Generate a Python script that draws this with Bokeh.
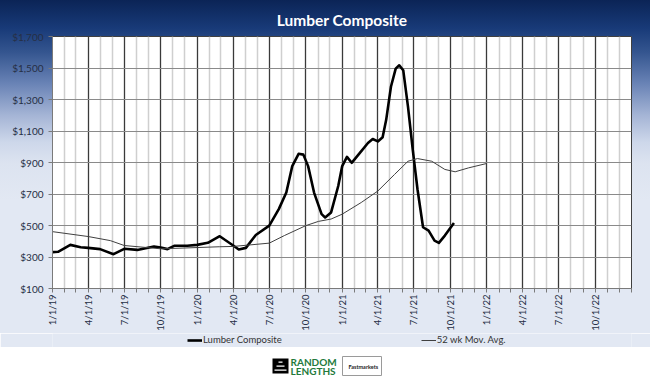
import pandas as pd
from bokeh.plotting import figure
from bokeh.layouts import column
from bokeh.models import (FixedTicker, NumeralTickFormatter, CustomJSTickFormatter,
                          Legend, LegendItem, Range1d)
from bokeh.core.properties import value
from bokeh.embed import file_html
from bokeh.resources import INLINE

# ---------------- data ----------------
lumber_dates = ["2019-01-01", "2019-01-15", "2019-02-15", "2019-03-13", "2019-04-01",
                "2019-05-01", "2019-06-04", "2019-07-01", "2019-08-03", "2019-09-14",
                "2019-10-01", "2019-10-18", "2019-11-04", "2019-12-07", "2020-01-01",
                "2020-01-28", "2020-02-27", "2020-04-01", "2020-04-15", "2020-05-03",
                "2020-05-28", "2020-07-01", "2020-07-25", "2020-08-13", "2020-08-28",
                "2020-09-13", "2020-09-25", "2020-10-07", "2020-10-22", "2020-11-10",
                "2020-11-19", "2020-12-04", "2020-12-22", "2021-01-01", "2021-01-13",
                "2021-01-25", "2021-02-11", "2021-03-07", "2021-03-19", "2021-04-01",
                "2021-04-13", "2021-04-22", "2021-05-04", "2021-05-16", "2021-05-25",
                "2021-06-04", "2021-06-16", "2021-06-28", "2021-07-10", "2021-07-24",
                "2021-08-07", "2021-08-22", "2021-09-02", "2021-09-17", "2021-10-10"]
lumber_values = [331, 333, 377, 362, 358,
                 350, 318, 352, 345, 367,
                 360, 350, 371, 371, 377,
                 390, 432, 373, 348, 358,
                 440, 499, 604, 709, 877,
                 955, 950, 877, 709, 572,
                 551, 583, 751, 877, 936,
                 898, 950, 1024, 1049, 1034,
                 1060, 1171, 1381, 1496, 1517,
                 1486, 1255, 982, 730, 489,
                 467, 404, 390, 436, 516]

ma_dates = ["2019-01-01", "2019-04-01", "2019-05-27", "2019-07-01", "2019-10-01",
            "2020-01-01", "2020-02-26", "2020-04-01", "2020-07-01", "2020-08-08",
            "2020-10-01", "2020-11-02", "2020-12-04", "2021-01-01", "2021-02-18",
            "2021-04-01", "2021-05-13", "2021-06-16", "2021-07-10", "2021-08-15",
            "2021-09-17", "2021-10-13", "2021-11-16", "2022-01-01"]
ma_values = [461, 430, 404, 373, 352,
             360, 365, 367, 388, 436,
             499, 526, 541, 572, 646,
             719, 824, 908, 925, 908,
             856, 841, 866, 894]

y_ticks = [100, 300, 500, 700, 900, 1100, 1300, 1500, 1700]
x_start, x_end = "2019-01-01", "2023-01-01"
series_names = ["Lumber Composite", "52 wk Mov. Avg."]
title_text = "Lumber Composite"
logo_words = ["RANDOM", "LENGTHS", "Fastmarkets"]


def ms(ts):
    return pd.Timestamp(ts).value / 1e6


quarters = [ms(t) for t in pd.date_range("2019-01-01", "2022-10-01", freq="QS")]
months = [ms(t) for t in pd.date_range(x_start, x_end, freq="MS")]
months_minor = [m for m in months if m not in quarters]

FONT = "Lato"
PALE = "#e2e8f3"
LUMBER_STYLE = dict(line_color="black", line_width=2.6, line_join="round")
MA_STYLE = dict(line_color="#404040", line_width=1)
BL, BR = 52, 19   # left / right borders shared by every strip

p = figure(width=650, height=333, x_axis_type="datetime",
           x_range=Range1d(ms(x_start), ms(x_end)), y_range=Range1d(100, 1700),
           output_backend="svg", toolbar_location=None,
           background_fill_color="white", border_fill_color=None,
           min_border_left=BL, min_border_right=BR, min_border_top=36, min_border_bottom=43,
           outline_line_color="#404040", outline_line_width=1)
p.styles = {"background": "linear-gradient(to bottom, #0b2456 0px, #183a78 28px, #34558f 52px, "
                          "#6882b5 83px, #a4b4d5 115px, #cdd7ea 142px, #dce3f0 163px, "
                          "#e2e8f3 200px, #e2e8f3 100%)"}

p.title.text = title_text
p.title.align = "center"
p.title.vertical_align = "middle"
p.title.offset = -16
p.title.text_color = "white"
p.title.text_font = FONT
p.title.text_font_style = "bold"
p.title.text_font_size = "15.5px"
p.title.standoff = 14

xt = FixedTicker(ticks=quarters, minor_ticks=months_minor)
p.xaxis.ticker = xt
p.xgrid.ticker = xt
p.xaxis.formatter = CustomJSTickFormatter(code="""
const d = new Date(tick);
return (d.getUTCMonth() + 1) + "/" + d.getUTCDate() + "/" + String(d.getUTCFullYear()).slice(2);
""")
p.xaxis.major_label_orientation = 3.14159265 / 2
p.xgrid.grid_line_color = "#3a3a3a"
p.xgrid.grid_line_width = 1.3
p.xgrid.minor_grid_line_color = "#cfcfcf"
p.xgrid.minor_grid_line_width = 1.5

p.yaxis.ticker = FixedTicker(ticks=y_ticks)
p.yaxis.formatter = NumeralTickFormatter(format="$0,0")
p.ygrid.grid_line_color = "#8a8a8a"
p.ygrid.grid_line_width = 1

for ax in (p.xaxis[0], p.yaxis[0]):
    ax.axis_line_color = "#7a7a7a"
    ax.major_tick_line_color = "#7a7a7a"
    ax.major_tick_out = 4
    ax.major_tick_in = 0
    ax.major_label_text_font = FONT
    ax.major_label_text_color = "#262f45"
p.yaxis.major_label_text_font_size = "10px"
p.xaxis.major_label_text_font_size = "9.5px"
p.xaxis.minor_tick_line_color = "#7a7a7a"
p.xaxis.minor_tick_out = 4
p.xaxis.minor_tick_in = 0
p.xaxis.major_label_standoff = 2
p.yaxis.minor_tick_line_color = None
p.yaxis.major_label_standoff = 5

p.line(pd.to_datetime(lumber_dates), lumber_values, **LUMBER_STYLE)
p.line(pd.to_datetime(ma_dates), ma_values, **MA_STYLE)

# ---------------- legend strip ----------------
lg = figure(width=650, height=14, x_range=Range1d(0, 1), y_range=Range1d(0, 1),
            output_backend="svg", toolbar_location=None,
            min_border_left=BL, min_border_right=BR, min_border_top=0, min_border_bottom=0,
            x_axis_location=None, y_axis_location=None, outline_line_color=None,
            background_fill_color=PALE, border_fill_color=PALE)
lg.grid.visible = False
# legend swatches only: their data lie outside this strip's ranges
d1 = lg.line([2, 3], [2, 3], **LUMBER_STYLE)
d2 = lg.line([2, 3], [2, 3], **MA_STYLE)
leg = Legend(items=[LegendItem(label=series_names[0], renderers=[d1]),
                    LegendItem(label=series_names[1], renderers=[d2])],
             location=(135, 2), orientation="horizontal")
leg.background_fill_alpha = 0
leg.border_line_color = None
leg.padding = 0
leg.margin = 0
leg.spacing = 139
leg.glyph_width = 15
leg.glyph_height = 10
leg.label_standoff = 1
leg.label_text_font = FONT
leg.label_text_font_size = "9.5px"
leg.label_text_color = "#333333"
leg.label_height = 10
lg.add_layout(leg, "center")

# ---------------- logo strip (white band under the chart) ----------------
q = figure(width=650, height=35, x_range=Range1d(BL, 650 - BR), y_range=Range1d(382, 347),
           output_backend="svg", toolbar_location=None,
           min_border_left=BL, min_border_right=BR, min_border_top=0, min_border_bottom=0,
           x_axis_location=None, y_axis_location=None,
           outline_line_color=None, background_fill_color="white", border_fill_color="white")
q.grid.visible = False
q.quad(left=[272], right=[288], top=[358], bottom=[373], fill_color="black", line_color=None)
q.quad(left=[278, 276, 274], right=[282, 284, 286], top=[361, 365, 369], bottom=[362.2, 366.2, 370.2],
       fill_color="white", line_color=None)
q.text(x=[290, 290], y=[361.5, 370.5], text=logo_words[:2], text_color="#237a3c",
       text_font=value(FONT), text_font_style="bold", text_font_size="10px",
       text_baseline="middle")
q.quad(left=[342], right=[381], top=[356], bottom=[375], fill_color="white",
       line_color="#9a9a9a", line_width=1)
q.text(x=[348], y=[366], text=[logo_words[2]], text_color="#222222",
       text_font=value(FONT), text_font_style="bold", text_font_size="5.5px",
       text_baseline="middle")

layout = column(p, lg, q, spacing=0)
open("out.html", "w").write(file_html(layout, INLINE))
